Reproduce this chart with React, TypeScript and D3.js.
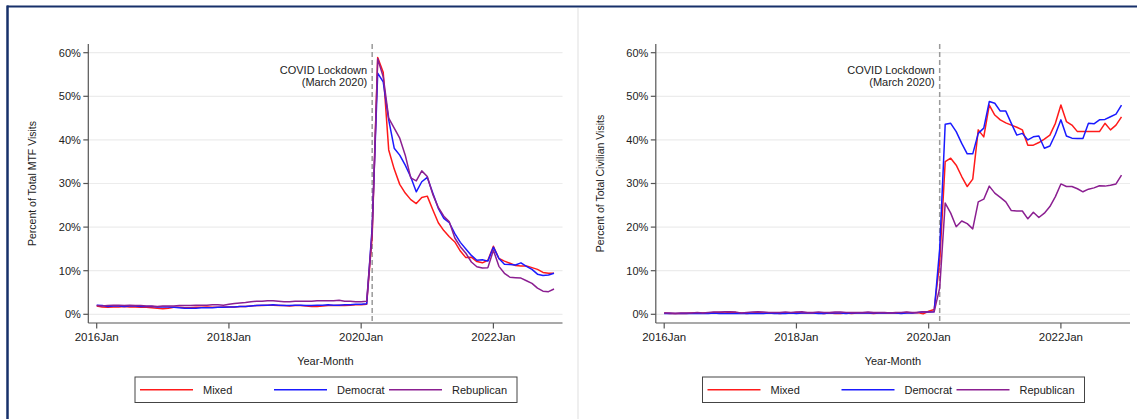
import React from "react";
import * as d3 from "d3";

const tickMonths = [0, 24, 48, 72];
const tickLabels = ["2016Jan", "2018Jan", "2020Jan", "2022Jan"];
const yTicks = [0, 10, 20, 30, 40, 50, 60];
const lockdownMonth = 50;

// Left panel: Percent of Total MTF Visits (Jan 2016 .. Dec 2022)
const mtfMixed = [
  1.9, 1.7, 1.6, 1.7, 1.7, 1.8, 1.7, 1.7, 1.6, 1.6, 1.5, 1.4, 1.3, 1.4, 1.6, 1.6, 1.5, 1.5, 1.6, 1.6,
  1.7, 1.6, 1.6, 1.7, 1.7, 1.7, 1.8, 1.8, 1.9, 2.0, 2.0, 2.1, 2.1, 2.0, 2.0, 1.9, 2.0, 2.0, 1.9, 1.8,
  1.8, 1.9, 2.0, 2.0, 2.1, 2.0, 2.1, 2.2, 2.2, 2.3,
  18, 58.9, 55.5, 37.7, 33.3, 29.8, 27.8, 26.3, 25.4, 26.8, 27.1, 24.0, 21.0, 19.2, 17.8, 16.6, 14.5,
  13.0, 13.1, 12.1, 11.8, 12.4, 15.6, 12.8, 12.2, 11.7, 11.2, 11.1, 11.1, 10.7, 10.3, 9.6, 9.4, 9.4,
];
const mtfDemocrat = [
  2.1, 2.0, 1.8, 1.9, 1.9, 1.8, 1.9, 1.9, 1.8, 1.8, 1.8, 1.7, 1.7, 1.7, 1.6, 1.5, 1.4, 1.4, 1.4, 1.5,
  1.5, 1.5, 1.6, 1.6, 1.7, 1.7, 1.8, 1.8, 1.9, 2.0, 2.1, 2.1, 2.2, 2.1, 2.0, 2.0, 2.1, 2.1, 2.0, 2.0,
  2.1, 2.1, 2.2, 2.1, 2.1, 2.2, 2.2, 2.3, 2.3, 2.4,
  20, 55.3, 53.3, 44.6, 38.1, 36.5, 34.2, 31.5, 28.1, 30.4, 31.4, 27.8, 24.3, 22.0, 21.0, 18.5, 16.5,
  15.0, 13.5, 12.4, 12.5, 12.2, 15.4, 12.8, 11.5, 11.4, 11.3, 11.8, 11.0, 10.3, 9.2, 8.9, 9.0, 9.4,
];
const mtfRepublican = [
  2.0, 1.9, 2.0, 2.1, 2.1, 2.0, 2.1, 2.0, 2.0, 1.9, 1.9, 1.8, 1.9, 1.9, 1.9, 2.0, 2.0, 2.0, 2.1, 2.1,
  2.1, 2.2, 2.2, 2.1, 2.3, 2.5, 2.6, 2.7, 2.9, 3.0, 3.0, 3.1, 3.1, 3.0, 2.9, 2.9, 3.0, 3.0, 3.0, 3.0,
  3.1, 3.1, 3.1, 3.1, 3.2, 3.0, 3.0, 2.9, 2.9, 3.0,
  19, 58.6, 54.5, 45.0, 42.7, 40.4, 36.5, 31.3, 30.6, 32.9, 31.6, 27.5, 24.5, 22.5, 21.2, 17.5, 15.5,
  14.0, 12.0, 10.9, 10.6, 10.7, 14.7, 11.0, 9.4, 8.5, 8.4, 8.3, 7.7, 7.1, 6.0, 5.3, 5.2, 5.8,
];

// Right panel: Percent of Total Civilian Visits
const civMixed = [
  0.3, 0.2, 0.2, 0.2, 0.2, 0.3, 0.3, 0.3, 0.3, 0.4, 0.4, 0.3, 0.4, 0.4, 0.3, 0.2, 0.3, 0.4, 0.3, 0.3,
  0.3, 0.2, 0.3, 0.3, 0.4, 0.3, 0.3, 0.3, 0.3, 0.2, 0.3, 0.2, 0.2, 0.3, 0.2, 0.3, 0.3, 0.3, 0.2, 0.3,
  0.3, 0.3, 0.3, 0.3, 0.4, 0.3, 0.4, 0.1, 0.7, 1.1,
  12, 35.0, 35.8, 34.2, 31.6, 29.3, 31.0, 42.3, 40.7, 48.0, 45.7, 44.6, 43.9, 43.4, 42.9, 42.3, 38.8,
  38.8, 39.4, 40.2, 41.1, 43.8, 48.0, 44.2, 43.4, 41.9, 41.9, 41.9, 41.9, 41.9, 43.8, 42.3, 43.4, 45.3,
];
const civDemocrat = [
  0.2, 0.2, 0.2, 0.2, 0.2, 0.2, 0.2, 0.2, 0.2, 0.3, 0.2, 0.2, 0.2, 0.2, 0.2, 0.2, 0.2, 0.2, 0.2, 0.3,
  0.2, 0.2, 0.2, 0.3, 0.2, 0.3, 0.3, 0.3, 0.2, 0.2, 0.3, 0.3, 0.3, 0.2, 0.3, 0.3, 0.3, 0.3, 0.3, 0.3,
  0.3, 0.3, 0.3, 0.2, 0.3, 0.3, 0.4, 0.6, 0.5, 0.6,
  15, 43.6, 43.8, 41.9, 39.2, 36.8, 36.8, 41.5, 42.7, 48.8, 48.4, 46.6, 46.6, 43.8, 41.1, 41.5, 40.0,
  40.7, 40.9, 38.1, 38.6, 41.3, 44.6, 40.9, 40.4, 40.3, 40.3, 43.8, 43.7, 44.6, 44.7, 45.3, 45.9, 48.0,
];
const civRepublican = [
  0.3, 0.3, 0.2, 0.3, 0.3, 0.3, 0.4, 0.3, 0.4, 0.5, 0.5, 0.6, 0.6, 0.5, 0.3, 0.4, 0.5, 0.6, 0.5, 0.4,
  0.4, 0.4, 0.5, 0.4, 0.5, 0.6, 0.4, 0.4, 0.5, 0.4, 0.4, 0.5, 0.5, 0.4, 0.4, 0.4, 0.4, 0.5, 0.4, 0.4,
  0.4, 0.3, 0.4, 0.4, 0.5, 0.4, 0.4, 0.6, 0.5, 0.6,
  6, 25.5, 23.2, 20.1, 21.4, 20.8, 19.6, 25.8, 26.4, 29.4, 27.8, 26.8, 25.8, 23.8, 23.7, 23.7, 21.9,
  23.4, 22.2, 23.2, 24.7, 27.0, 29.9, 29.3, 29.3, 28.8, 28.1, 28.7, 29.0, 29.5, 29.4, 29.6, 29.9, 31.9,
];

const seriesColors = ["#ff1a1a", "#1a1aff", "#8b1f91"];
const FONT = "'Liberation Sans', Arial, Helvetica, sans-serif";

type PanelProps = {
  ox: number;
  yTitle: string;
  series: number[][];
  legendNames: string[];
};

function Panel({ ox, yTitle, series, legendNames }: PanelProps) {
  const axisX = ox + 88.3;
  const plotRight = ox + 562.5;
  const axisY = 323;
  const plotTop = 44;
  const x = d3.scaleLinear().domain([0, 72]).range([ox + 96.7, ox + 493.4]);
  const y = d3.scaleLinear().domain([0, 60]).range([314.3, 52.7]);
  const line = d3
    .line<number>()
    .x((_, i) => x(i))
    .y((v) => y(v));
  const cx = (axisX + plotRight) / 2;
  const lx = x(lockdownMonth);
  const legLeft = ox + 135;
  const legItems = [0, 134, 249];
  return (
    <g>
      {yTicks.map((t) => (
        <line key={"g" + t} x1={axisX} x2={plotRight} y1={y(t)} y2={y(t)} stroke="#ececec" strokeWidth={1.2} />
      ))}
      <line x1={lx} x2={lx} y1={plotTop} y2={axisY} stroke="#9a9a9a" strokeWidth={1.5} strokeDasharray="5,3" />
      {series.map((s, i) => (
        <path key={"s" + i} d={line(s) || ""} fill="none" stroke={seriesColors[i]} strokeWidth={1.5} strokeLinejoin="round" />
      ))}
      <line x1={axisX} x2={axisX} y1={plotTop} y2={axisY} stroke="#555" strokeWidth={1.2} />
      <line x1={axisX} x2={plotRight} y1={axisY} y2={axisY} stroke="#555" strokeWidth={1.2} />
      {yTicks.map((t) => (
        <g key={"yt" + t}>
          <line x1={axisX - 5} x2={axisX} y1={y(t)} y2={y(t)} stroke="#555" strokeWidth={1.2} />
          <text x={axisX - 7.5} y={y(t)} dy="0.35em" textAnchor="end" fontSize={11} fontFamily={FONT} fill="#222">
            {t + "%"}
          </text>
        </g>
      ))}
      {tickMonths.map((m, i) => (
        <g key={"xt" + m}>
          <line x1={x(m)} x2={x(m)} y1={axisY} y2={axisY + 5.5} stroke="#555" strokeWidth={1.2} />
          <text x={x(m)} y={axisY + 18} textAnchor="middle" fontSize={11.5} fontFamily={FONT} fill="#222">
            {tickLabels[i]}
          </text>
        </g>
      ))}
      <text x={lx - 5} y={74} textAnchor="end" fontSize={11} fontFamily={FONT} fill="#222">
        COVID Lockdown
      </text>
      <text x={lx - 5} y={86} textAnchor="end" fontSize={11} fontFamily={FONT} fill="#222">
        (March 2020)
      </text>
      <text x={cx} y={365} textAnchor="middle" fontSize={11} fontFamily={FONT} fill="#222">
        Year-Month
      </text>
      <text
        transform={`translate(${ox + 36},${(plotTop + axisY) / 2}) rotate(-90)`}
        textAnchor="middle"
        fontSize={10.5}
        fontFamily={FONT}
        fill="#222"
      >
        {yTitle}
      </text>
      <rect x={legLeft} y={377} width={382} height={25.5} fill="#fff" stroke="#444" strokeWidth={1} />
      {legendNames.map((name, i) => (
        <g key={"l" + name}>
          <line
            x1={legLeft + 5 + legItems[i]}
            x2={legLeft + 58 + legItems[i]}
            y1={389.7}
            y2={389.7}
            stroke={seriesColors[i]}
            strokeWidth={1.5}
          />
          <text x={legLeft + 68 + legItems[i]} y={389.7} dy="0.35em" fontSize={11} fontFamily={FONT} fill="#222">
            {name}
          </text>
        </g>
      ))}
    </g>
  );
}

export default function App() {
  return (
    <svg
      width={1137}
      height={419}
      style={{ position: "fixed", left: 0, top: 0, background: "#fff" }}
    >
      <rect x={0} y={0} width={1137} height={419} fill="#fff" />
      <line x1={578} x2={578} y1={8} y2={419} stroke="#efefef" strokeWidth={2} />
      <Panel
        ox={0}
        yTitle="Percent of Total MTF Visits"
        series={[mtfMixed, mtfDemocrat, mtfRepublican]}
        legendNames={["Mixed", "Democrat", "Rebuplican"]}
      />
      <Panel
        ox={567.5}
        yTitle="Percent of Total Civilian Visits"
        series={[civMixed, civDemocrat, civRepublican]}
        legendNames={["Mixed", "Democrat", "Republican"]}
      />
      <line x1={7} x2={1137} y1={6.5} y2={6.5} stroke="#17306a" strokeWidth={2} />
      <line x1={7.5} x2={7.5} y1={5.5} y2={419} stroke="#17306a" strokeWidth={2.5} />
    </svg>
  );
}
